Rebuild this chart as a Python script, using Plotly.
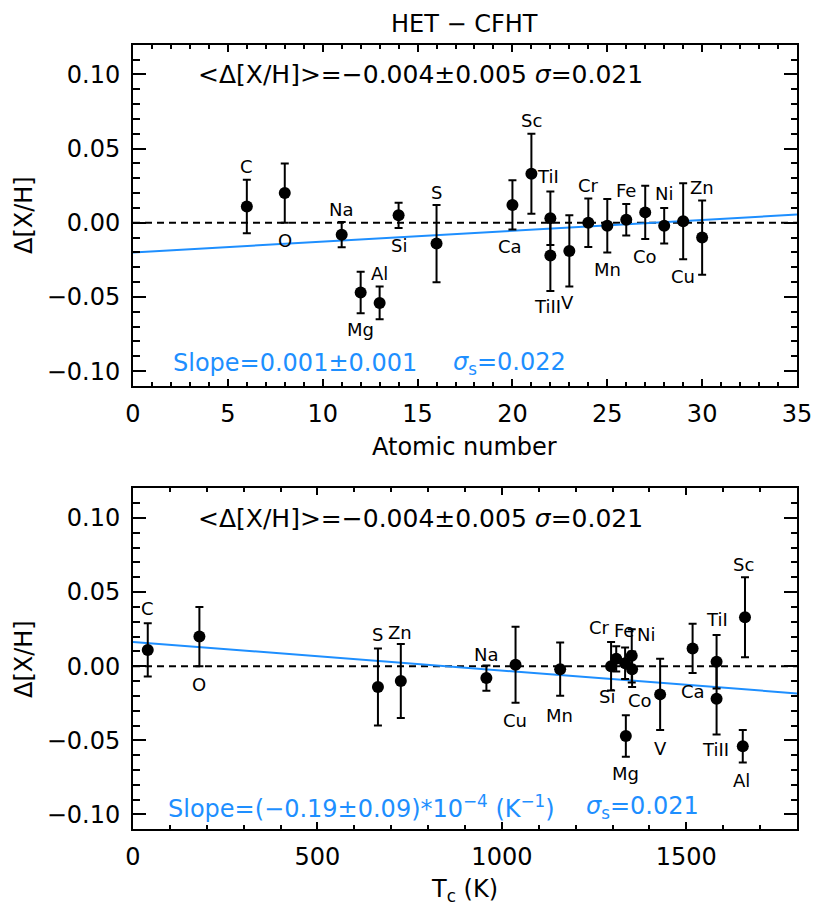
import plotly.graph_objects as go

# ---------------- data ----------------
elements = ["C", "O", "Na", "Mg", "Al", "Si", "S", "Ca", "Sc", "TiI", "TiII",
            "V", "Cr", "Mn", "Fe", "Co", "Ni", "Cu", "Zn"]
atomic_number = [6, 8, 11, 12, 13, 14, 16, 20, 21, 22, 22,
                 23, 24, 25, 26, 27, 28, 29, 30]
tc_kelvin = [40, 180, 958, 1336, 1653, 1310, 664, 1517, 1659, 1582, 1582,
             1429, 1296, 1158, 1334, 1352, 1353, 1037, 726]
delta_xh = [0.011, 0.020, -0.008, -0.047, -0.054, 0.005, -0.014, 0.012, 0.033, 0.003, -0.022,
            -0.019, 0.000, -0.002, 0.002, 0.007, -0.002, 0.001, -0.010]
delta_err = [0.018, 0.020, 0.0085, 0.014, 0.011, 0.0085, 0.026, 0.0166, 0.027, 0.018, 0.024,
             0.024, 0.0164, 0.018, 0.0106, 0.018, 0.012, 0.0256, 0.025]

fit_z_intercept, fit_z_slope = -0.020, 0.00073
fit_tc_intercept, fit_tc_slope = 0.0164, -1.93e-5

z_range = [0, 35]
tc_range = [0, 1800]
y_range = [-0.11, 0.12]
y_ticks = [-0.10, -0.05, 0.00, 0.05, 0.10]

# label offsets in pixels (dx right, dy up) -- styling only
label_off_top = {
    "C": (0, 40), "O": (0, -47), "Na": (0, 25), "Mg": (0, -37), "Al": (0, 29),
    "Si": (0, -30), "S": (0, 51), "Ca": (-2, -42), "Sc": (0, 53), "TiI": (-2, 42),
    "TiII": (-3, -51), "V": (-2, -52), "Cr": (0, 37), "Mn": (0, -44), "Fe": (0, 29),
    "Co": (0, -44), "Ni": (0, 32), "Cu": (0, -55), "Zn": (0, 50)}
label_off_bot = {
    "C": (0, 41), "O": (0, -48), "S": (0, 52), "Zn": (-1, 49), "Na": (0, 24),
    "Cu": (-1, -56), "Mn": (-1, -46), "Cr": (-12, 39), "Fe": (-1, 33), "Ni": (14, 35),
    "Si": (-9, -38), "Co": (8, -45), "Mg": (0, -38), "V": (0, -54), "Ca": (0, -43),
    "TiI": (0, 42), "TiII": (-1, -51), "Al": (-1, -34), "Sc": (-1, 53)}

FONT = "DejaVu Sans"
BLUE = "#1E8FFF"
W, H = 830, 922
OFF = 8  # page body margin compensation

fig = go.Figure()

def add_panel(xvals, xrange, xa, ya, icpt, slope, offsets):
    fig.add_trace(go.Scatter(x=xrange, y=[0, 0], mode="lines",
                             line=dict(color="black", width=2, dash="7px,5px"),
                             xaxis=xa, yaxis=ya, showlegend=False, hoverinfo="skip"))
    fig.add_trace(go.Scatter(x=xrange, y=[icpt + slope * xv for xv in xrange], mode="lines",
                             line=dict(color=BLUE, width=2),
                             xaxis=xa, yaxis=ya, showlegend=False, hoverinfo="skip"))
    fig.add_trace(go.Scatter(x=xvals, y=delta_xh, mode="markers",
                             marker=dict(color="black", size=12),
                             error_y=dict(type="data", array=delta_err, color="black",
                                          thickness=2, width=4),
                             xaxis=xa, yaxis=ya, showlegend=False))
    for el, xv, yv in zip(elements, xvals, delta_xh):
        dx, dy = offsets[el]
        fig.add_annotation(x=xv, y=yv, xref=xa, yref=ya, text=el, showarrow=False,
                           xshift=dx, yshift=dy, font=dict(family=FONT, size=18, color="black"))

add_panel(atomic_number, z_range, "x", "y", fit_z_intercept, fit_z_slope, label_off_top)
add_panel(tc_kelvin, tc_range, "x2", "y2", fit_tc_intercept, fit_tc_slope, label_off_bot)

def fx(px):
    return (px - OFF) / W

def fy(py):
    return 1 - (py - OFF) / H

xdom = [fx(133), fx(797)]
ydom_top = [fy(386), fy(44.7)]
ydom_bot = [fy(829.3), fy(488.3)]

axis_common = dict(showline=True, linewidth=2, linecolor="black", mirror="allticks",
                   ticks="inside", tickwidth=2, tickcolor="black", showgrid=False,
                   zeroline=False, automargin=False,
                   tickfont=dict(family=FONT, size=24, color="black"))

xaxis_style = dict(axis_common, ticklen=7, ticklabelstandoff=5,
                   minor=dict(ticks="inside", ticklen=4, tickwidth=2, tickcolor="black"))
yaxis_style = dict(axis_common, ticklen=13, range=y_range, tickvals=y_ticks,
                   tickformat=".2f", ticklabelstandoff=6,
                   minor=dict(ticks="inside", ticklen=6.5, tickwidth=2, tickcolor="black",
                              dtick=0.01, tick0=0))

fig.update_layout(
    width=W, height=H, margin=dict(l=0, r=0, t=0, b=0, autoexpand=False),
    paper_bgcolor="white", plot_bgcolor="white",
    xaxis=dict(xaxis_style, domain=xdom, range=z_range, dtick=5, anchor="y",
               minor=dict(xaxis_style["minor"], dtick=1)),
    yaxis=dict(yaxis_style, domain=ydom_top, anchor="x"),
    xaxis2=dict(xaxis_style, domain=xdom, range=tc_range, dtick=500, anchor="y2",
                minor=dict(xaxis_style["minor"], dtick=100)),
    yaxis2=dict(yaxis_style, domain=ydom_bot, anchor="x2"),
)

def paper_text(txt, px, py, size, color="black", xanchor="center", angle=0):
    fig.add_annotation(x=fx(px), y=fy(py), xref="paper", yref="paper", text=txt,
                       showarrow=False, xanchor=xanchor, yanchor="middle", textangle=angle,
                       font=dict(family=FONT, size=size, color=color))

paper_text("HET − CFHT", 464, 24, 24)
stats = "&lt;Δ[X/H]&gt;=−0.004±0.005 <i>σ</i>=0.021"
paper_text(stats, 196, 74, 25, xanchor="left")
paper_text(stats, 196, 518, 25, xanchor="left")
paper_text("Slope=0.001±0.001", 171, 363, 24, BLUE, xanchor="left")
paper_text("<i>σ</i><sub>s</sub>=0.022", 451, 363, 24, BLUE, xanchor="left")
paper_text("Slope=(−0.19±0.09)*10<sup>−4</sup> (K<sup>−1</sup>)", 166, 807, 24, BLUE, xanchor="left")
paper_text("<i>σ</i><sub>s</sub>=0.021", 584, 807, 24, BLUE, xanchor="left")
paper_text("Atomic number", 464, 447, 24)
paper_text("T<sub>c</sub> (K)", 464, 890, 24)
paper_text("Δ[X/H]", 24, 215, 24, angle=-90)
paper_text("Δ[X/H]", 24, 659, 24, angle=-90)

fig.write_html("out.html")
